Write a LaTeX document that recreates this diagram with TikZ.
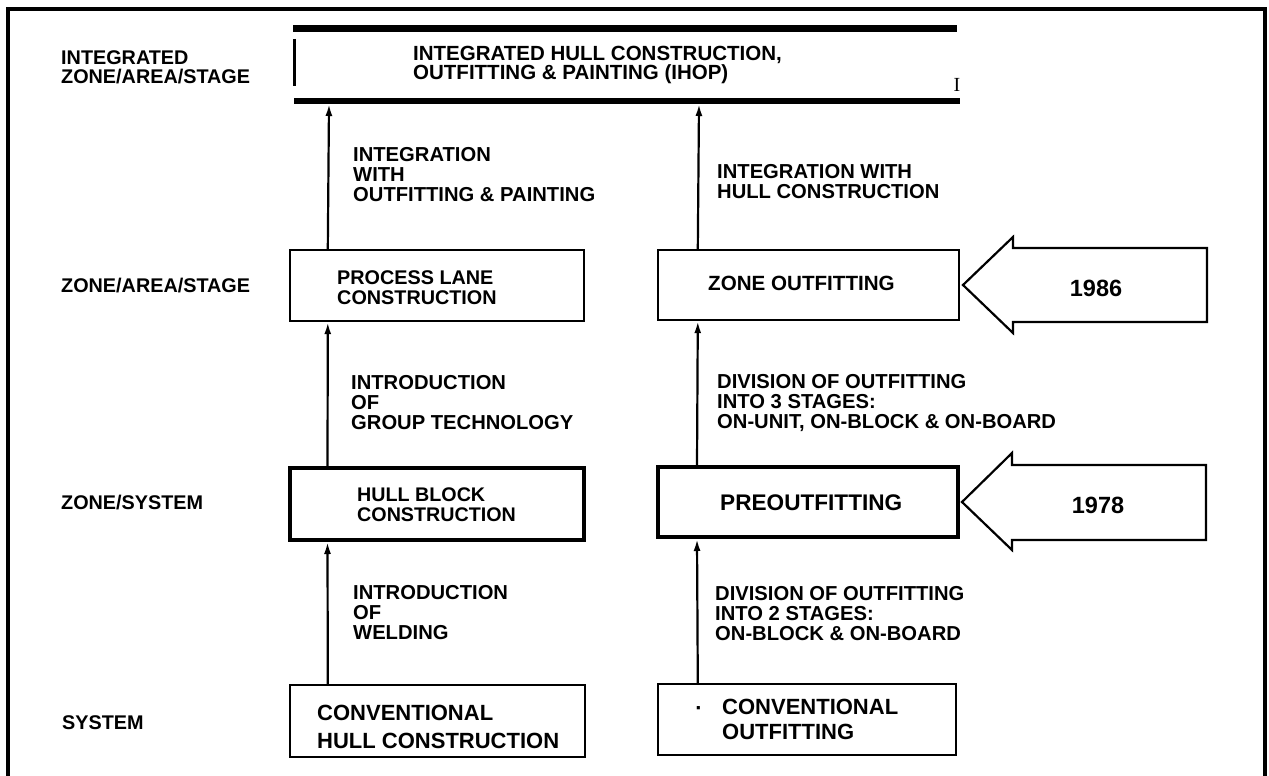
\documentclass[tikz,border=0pt]{standalone}
\usepackage{fontspec}
\setmainfont{Liberation Sans}
\newfontfamily\serifmark{Liberation Serif}
\usetikzlibrary{arrows.meta,calc}
\begin{document}
\begin{tikzpicture}[x=1pt,y=-1pt,
  rowlab/.style={anchor=west,inner sep=0pt,align=left,font=\fontsize{19.8}{19.5}\selectfont\bfseries},
  arrlab/.style={anchor=west,inner sep=0pt,align=left,font=\fontsize{20.2}{20}\selectfont\bfseries},
  boxtxt/.style={anchor=west,inner sep=0pt,align=left,font=\fontsize{19.8}{19.5}\selectfont\bfseries},
  bigtxt/.style={anchor=west,inner sep=0pt,align=left,font=\fontsize{22}{26}\selectfont\bfseries},
  yeartxt/.style={inner sep=0pt,font=\fontsize{23.5}{24}\selectfont\bfseries},
  stagebox/.style={draw,line width=2.4pt,inner sep=0pt,minimum width=#1},
  stagebox/.default=294pt,
  heavybox/.style={stagebox=#1,line width=4pt},
  heavybox/.default=294pt,
  arr/.style={-{Latex[length=12pt,width=7pt]},line width=2.2pt},
  yeararrow/.style={line width=2.2pt,line join=miter},
  bar/.style={line width=6.5pt}]
\useasboundingbox (0,0) rectangle (1269,776);
\fill[white] (0,0) rectangle (1269,776);
% outer frame (open at bottom)
\draw[line width=4pt] (8,776) -- (8,9) -- (1265,9) -- (1265,776);

% row labels
\node[rowlab] (r5) at (61,67.5) {INTEGRATED\\ZONE/AREA/STAGE};
\node[rowlab] (r4) at (61,286) {ZONE/AREA/STAGE};
\node[rowlab] (r3) at (61,503) {ZONE/SYSTEM};
\node[rowlab] (r2) at (62,723) {SYSTEM};

% IHOP box (two heavy bars + short left stroke)
\coordinate (ihopTL) at (293,28.5);
\coordinate (ihopTR) at (957,28.5);
\coordinate (ihopBL) at (294,101);
\coordinate (ihopBR) at (960,101);
\draw[bar] (ihopTL) -- (ihopTR);
\draw[bar] (ihopBL) -- (ihopBR);
\draw[line width=3pt] (294,39) -- (294,86);
\node[anchor=west,inner sep=0pt,align=left,font=\fontsize{20.5}{18.5}\selectfont\bfseries] (ihop) at (413,65)
  {INTEGRATED HULL CONSTRUCTION,\\OUTFITTING \& PAINTING (IHOP)};
\node[inner sep=0pt,font=\fontsize{20}{20}\selectfont\serifmark] (mark) at (957,85) {I};

% stage boxes
\node[stagebox] (pl) at (437,285.5) [minimum height=71pt] {};
\node[stagebox=301pt] (zo) at (808.5,285) [minimum height=70pt] {};
\node[heavybox] (hb) at (436.5,504) [minimum height=72pt] {};
\node[heavybox=300pt] (po) at (808,502) [minimum height=70pt] {};
\node[stagebox=295pt] (ch) at (437.5,721) [minimum height=72pt] {};
\node[stagebox=298pt] (co) at (807,719.5) [minimum height=71pt] {};

% box texts
\node[boxtxt] (plt) at (337,287.5) {PROCESS LANE\\CONSTRUCTION};
\node[anchor=west,inner sep=0pt,font=\fontsize{20.6}{20}\selectfont\bfseries] (zot) at (708,283) {ZONE OUTFITTING};
\node[boxtxt,font=\fontsize{19.7}{20}\selectfont\bfseries] (hbt) at (357,505) {HULL BLOCK\\CONSTRUCTION};
\node[anchor=west,inner sep=0pt,font=\fontsize{22.6}{22}\selectfont\bfseries] (pot) at (720,503) {PREOUTFITTING};
\node[bigtxt,font=\fontsize{22}{28}\selectfont\bfseries] (cht) at (317,727) {CONVENTIONAL\\HULL CONSTRUCTION};
\node[anchor=base,inner sep=0pt,font=\fontsize{22}{22}\selectfont\bfseries] (cob) at (699,715) {·};
\node[bigtxt,font=\fontsize{22}{25}\selectfont\bfseries] (cot) at (722,719.5) {CONVENTIONAL\\OUTFITTING};

% connectors
\draw[arr] ([xshift=39pt]ch.north west) -- ([xshift=40pt]hb.south west);
\draw[arr] ([xshift=40pt]hb.north west) -- ([xshift=39pt]pl.south west);
\draw[arr] ([xshift=39pt]pl.north west) -- ($(ihopBL)+(35,3)$);
\draw[arr] ([xshift=41pt]co.north west) -- ([xshift=41pt]po.south west);
\draw[arr] ([xshift=41pt]po.north west) -- ([xshift=41pt]zo.south west);
\draw[arr] ([xshift=41pt]zo.north west) -- ($(ihopBL)+(405,3)$);

% connector labels
\node[arrlab] (l5a) at (353,175) {INTEGRATION\\WITH\\OUTFITTING \& PAINTING};
\node[arrlab] (l5b) at (717,182) {INTEGRATION WITH\\HULL CONSTRUCTION};
\node[arrlab] (l4a) at (351,403) {INTRODUCTION\\OF\\GROUP TECHNOLOGY};
\node[arrlab] (l4b) at (717,403) {DIVISION OF OUTFITTING\\INTO 3 STAGES:\\ON-UNIT, ON-BLOCK \& ON-BOARD};
\node[arrlab] (l3a) at (353,613) {INTRODUCTION\\OF\\WELDING};
\node[arrlab] (l3b) at (715,614) {DIVISION OF OUTFITTING\\INTO 2 STAGES:\\ON-BLOCK \& ON-BOARD};

% year arrows
\draw[yeararrow] (963,285) -- (1013,237) -- (1013,248) -- (1207,248) -- (1207,322) -- (1013,322) -- (1013,333) -- cycle;
\node[yeartxt] (y86) at (1096,288) {1986};
\draw[yeararrow] (962,502) -- (1012,453) -- (1012,465) -- (1206,465) -- (1206,540) -- (1012,540) -- (1012,550) -- cycle;
\node[yeartxt] (y78) at (1098,505) {1978};
\end{tikzpicture}
\end{document}
